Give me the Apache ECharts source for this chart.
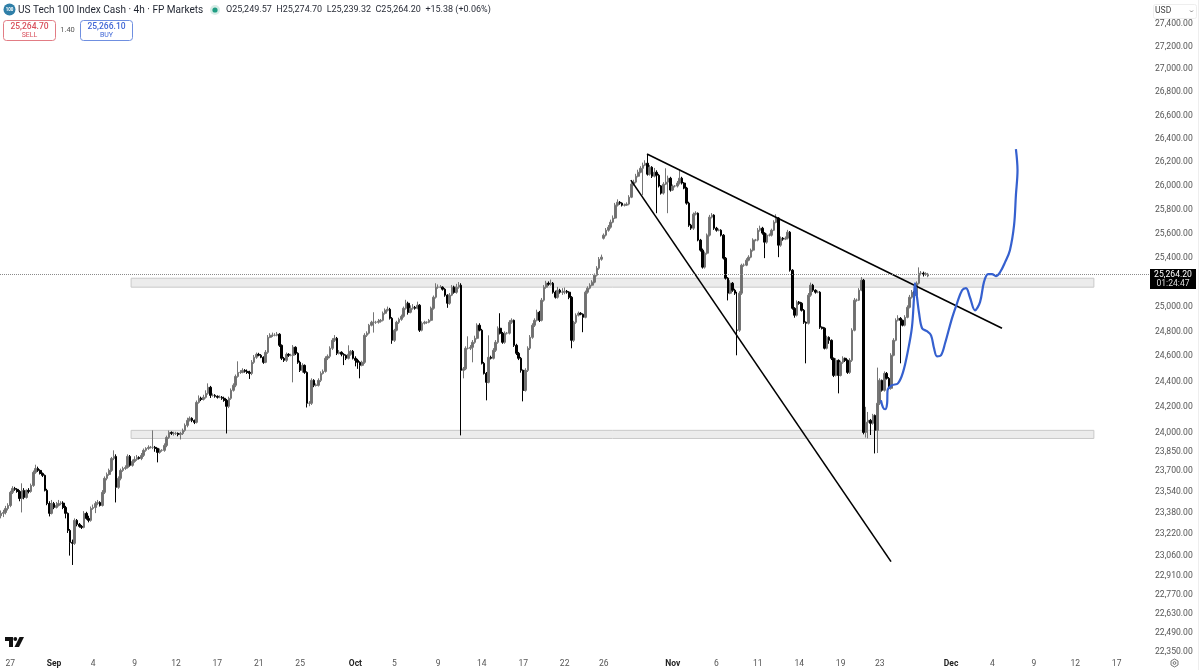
<!DOCTYPE html>
<html><head><meta charset="utf-8">
<script src="https://cdn.jsdelivr.net/npm/echarts@6/dist/echarts.min.js"></script>
<style>html,body{margin:0;padding:0;background:#fff}#c{width:1200px;height:670px}</style>
</head><body><div id="c"></div>
<script>
const barSlots = 500;
const opens = [
23360,23378,23385,23415,23438,23538,23568,23561,23545,23491,
23553,23499,23553,23545,23591,23691,23721,23706,23683,23668,
23553,23453,23378,23453,23423,23438,23453,23456,23423,23378,
23249,23159,23152,23325,23295,23280,23272,23378,23340,23325,
23415,23423,23453,23461,23438,23538,23645,23675,23706,23798,
23814,23576,23645,23706,23721,23729,23814,23745,23775,23791,
23806,23798,23822,23861,23876,23884,23884,23884,23876,23845,
23861,23861,23899,23961,24000,23992,23992,23992,23985,23992,
24016,24055,24094,24110,24094,24079,24235,24267,24259,24275,
24306,24354,24290,24290,24283,24275,24275,24267,24251,24204,
24267,24330,24370,24440,24472,24472,24488,24480,24472,24464,
24552,24592,24616,24608,24592,24552,24632,24752,24768,24768,
24768,24777,24688,24584,24568,24616,24608,24608,24672,24624,
24552,24488,24528,24472,24228,24228,24409,24370,24370,24409,
24464,24480,24584,24600,24664,24728,24744,24624,24632,24616,
24608,24584,24616,24640,24584,24568,24552,24528,24552,24768,
24785,24849,24873,24873,24873,24881,24889,24946,24970,24978,
24905,24728,24809,24873,24897,24921,24986,25027,24954,24986,
24994,24986,25011,24809,24865,24873,24873,24889,24986,25076,
25158,25158,25158,25141,25093,25027,25093,25158,25117,25158,
25174,24488,24500,24664,24664,24672,24712,24744,24849,24809,
24544,24464,24393,24592,24584,24648,24712,24825,24785,24712,
24785,24785,24873,24889,24688,24624,24584,24488,24330,24488,
24664,24752,24849,24889,24954,24889,25052,25158,25190,25182,
25190,25117,25076,25133,25117,25117,25125,25117,25076,24728,
24873,24930,24946,24938,24913,25117,25150,25174,25199,25256,
25313,25387,25560,25586,25627,25652,25694,25728,25836,25861,
25853,25836,25836,25845,25903,26013,26030,26080,26113,26147,
26173,26190,26097,26156,26080,26113,26088,25997,25938,26013,
26030,26063,25963,25997,25997,26022,26063,26022,25980,25853,
25669,25644,25761,25769,25545,25462,25322,25437,25586,25736,
25753,25644,25627,25627,25586,25396,25231,25109,25190,25133,
24809,24809,25109,25338,25338,25379,25404,25462,25545,25545,
25627,25644,25603,25528,25586,25586,25627,25694,25728,25503,
25561,25553,25561,25611,25297,24986,24930,25036,25027,24970,
24873,24865,25093,25174,25133,25117,25117,24833,24825,24664,
24752,24728,24584,24448,24568,24448,24552,24584,24568,24472,
24568,24809,25052,25052,25133,25215,24000,24080,24094,24071,
24133,24016,24228,24409,24330,24464,24425,24346,24608,24728,
24889,24905,24889,24849,24913,24994,25076,25117,25093,25190,
25272,25272,25264,25249.57];
const closes = [
23378,23385,23415,23438,23538,23568,23561,23545,23491,23553,
23499,23553,23545,23591,23691,23721,23706,23683,23668,23553,
23453,23378,23453,23423,23438,23453,23456,23423,23378,23249,
23159,23152,23325,23295,23280,23272,23378,23340,23325,23415,
23423,23453,23461,23438,23538,23645,23675,23706,23798,23814,
23576,23645,23706,23721,23729,23814,23745,23775,23791,23806,
23798,23822,23861,23876,23884,23884,23884,23876,23845,23861,
23861,23899,23961,24000,23992,23992,23992,23985,23992,24016,
24055,24094,24110,24094,24079,24235,24267,24259,24275,24306,
24354,24290,24290,24283,24275,24275,24267,24251,24204,24267,
24330,24370,24440,24472,24472,24488,24480,24472,24464,24552,
24592,24616,24608,24592,24552,24632,24752,24768,24768,24768,
24777,24688,24584,24568,24616,24608,24608,24672,24624,24552,
24488,24528,24472,24228,24228,24409,24370,24370,24409,24464,
24480,24584,24600,24664,24728,24744,24624,24632,24616,24608,
24584,24616,24640,24584,24568,24552,24528,24552,24768,24785,
24849,24873,24873,24873,24881,24889,24946,24970,24978,24905,
24728,24809,24873,24897,24921,24986,25027,24954,24986,24994,
24986,25011,24809,24865,24873,24873,24889,24986,25076,25158,
25158,25158,25141,25093,25027,25093,25158,25117,25158,25174,
24488,24500,24664,24664,24672,24712,24744,24849,24809,24544,
24464,24393,24592,24584,24648,24712,24825,24785,24712,24785,
24785,24873,24889,24688,24624,24584,24488,24330,24488,24664,
24752,24849,24889,24954,24889,25052,25158,25190,25182,25190,
25117,25076,25133,25117,25117,25125,25117,25076,24728,24873,
24930,24946,24938,24913,25117,25150,25174,25199,25256,25313,
25387,25404,25586,25627,25652,25694,25728,25836,25861,25853,
25836,25836,25845,25903,26013,26030,26080,26113,26147,26173,
26190,26097,26156,26080,26113,26088,25997,25938,26013,26030,
26063,25963,25997,25997,26022,26063,26022,25980,25853,25669,
25644,25761,25769,25545,25462,25322,25437,25586,25736,25753,
25644,25627,25627,25586,25396,25231,25109,25190,25133,25109,
24809,25109,25338,25338,25379,25404,25462,25545,25545,25627,
25644,25603,25528,25586,25586,25627,25694,25728,25503,25561,
25553,25561,25611,25297,24986,24930,25036,25027,24970,24873,
24865,25093,25174,25133,25117,25117,24833,24825,24664,24752,
24728,24584,24448,24568,24448,24552,24584,24568,24472,24568,
24809,25052,25052,25133,25215,24000,24080,24094,24071,24133,
24016,24228,24409,24330,24464,24425,24346,24608,24728,24889,
24905,24889,24849,24913,24994,25076,25117,25093,25190,25272,
25272,25264,25268,25264.2];
const highs = [
23400,23405,23435,23455,23550,23585,23580,23570,23555,23607,
23570,23560,23570,23605,23705,23750,23735,23715,23690,23675,
23565,23470,23480,23465,23465,23480,23470,23470,23435,23385,
23260,23180,23340,23335,23305,23290,23395,23390,23360,23430,
23445,23470,23480,23470,23555,23660,23690,23720,23810,23861,
23830,23660,23720,23735,23745,23830,23825,23790,23815,23825,
23815,23840,23875,23885,23900,23895,24016,23895,23880,23875,
23870,23915,23975,24015,24008,24005,24005,24000,24005,24030,
24070,24115,24125,24118,24100,24250,24290,24280,24295,24330,
24385,24365,24305,24300,24290,24290,24285,24280,24262,24280,
24345,24385,24455,24560,24490,24505,24498,24495,24485,24570,
24610,24630,24628,24618,24600,24650,24770,24785,24790,24785,
24795,24785,24695,24595,24630,24625,24620,24690,24680,24632,
24565,24545,24535,24480,24245,24425,24418,24385,24425,24480,
24495,24600,24615,24680,24745,24770,24755,24650,24640,24625,
24615,24688,24650,24650,24600,24580,24560,24565,24785,24800,
24860,24885,24954,24885,24900,24900,24960,24985,25000,24990,
24915,24820,24885,24910,24935,25000,25055,25040,25010,25020,
25005,25040,25020,24880,24885,24880,24900,25000,25090,25190,
25180,25175,25165,25150,25100,25110,25175,25170,25185,25200,
25190,24515,24680,24760,24690,24730,24765,24865,24865,24820,
24555,24475,24768,24605,24665,24730,24840,24946,24795,24800,
24795,24890,24905,24895,24700,24635,24595,24495,24505,24680,
24770,24865,24905,24975,24965,25070,25175,25210,25205,25220,
25200,25130,25160,25145,25150,25155,25135,25125,25085,24885,
24945,24960,24955,24945,25130,25165,25190,25215,25270,25330,
25405,25425,25600,25645,25670,25715,25750,25855,25885,25870,
25860,25850,25860,25920,26030,26050,26100,26135,26165,26195,
26215,26260,26175,26165,26150,26130,26100,26005,26030,26147,
26085,26075,26010,26005,26040,26130,26075,26030,25990,25865,
25680,25775,25785,25775,25555,25475,25450,25600,25755,25770,
25760,25655,25640,25635,25595,25405,25240,25215,25200,25145,
25120,25125,25350,25352,25395,25420,25475,25560,25555,25645,
25665,25655,25610,25600,25600,25640,25710,25760,25735,25575,
25570,25575,25630,25620,25305,24995,25050,25045,25035,24980,
24880,25110,25195,25185,25140,25130,25125,24840,24832,24765,
24760,24735,24590,24585,24575,24565,24600,24590,24575,24585,
24825,25070,25065,25150,25240,25225,24200,24160,24105,24145,
24140,24510,24425,24415,24480,24475,24435,24625,24745,24905,
24930,24915,24895,24930,25010,25095,25135,25125,25205,25320,
25290,25285,25280,25274.7];
const lows = [
23340,23350,23370,23400,23425,23525,23550,23535,23470,23385,
23485,23490,23530,23535,23580,23680,23695,23675,23655,23545,
23440,23355,23370,23410,23415,23430,23440,23410,23340,23230,
23060,22990,23140,23280,23270,23260,23265,23330,23310,23315,
23405,23380,23440,23430,23430,23525,23630,23665,23695,23785,
23461,23565,23630,23695,23710,23720,23735,23735,23765,23780,
23790,23785,23810,23850,23865,23875,23870,23850,23768,23835,
23850,23850,23885,23950,23980,23975,23980,23970,23945,23980,
24005,24040,24085,24080,24065,24070,24225,24245,24250,24265,
24295,24270,24280,24272,24265,24268,24255,24240,23992,24190,
24255,24320,24355,24430,24460,24465,24470,24460,24420,24450,
24540,24580,24600,24585,24540,24545,24620,24745,24755,24760,
24760,24675,24570,24555,24555,24595,24600,24393,24610,24540,
24475,24470,24460,24195,24205,24215,24355,24360,24360,24395,
24455,24470,24570,24585,24650,24715,24610,24615,24600,24530,
24570,24575,24605,24575,24520,24500,24425,24520,24540,24755,
24775,24840,24790,24860,24862,24870,24880,24935,24960,24895,
24700,24715,24800,24860,24885,24910,24975,24935,24945,24975,
24975,24978,24795,24800,24855,24860,24865,24880,24975,25065,
25145,25150,25130,25080,24990,25015,25085,25105,25105,25145,
23977,24425,24490,24655,24650,24552,24700,24735,24800,24535,
24455,24251,24385,24575,24575,24635,24700,24775,24700,24700,
24775,24775,24860,24675,24610,24570,24470,24243,24320,24475,
24650,24740,24835,24880,24875,24880,25040,25145,25170,25170,
25105,25065,25065,25105,25095,25100,25105,25060,24664,24715,
24860,24920,24930,24793,24905,25105,25140,25165,25190,25245,
25300,25375,25550,25575,25615,25640,25685,25720,25825,25840,
25825,25825,25830,25835,25895,26000,26020,26070,26105,25920,
26165,26085,26085,26065,26070,25769,25985,25925,25925,26005,
25769,25950,25955,25985,25985,26010,26010,25970,25840,25655,
25630,25630,25750,25535,25450,25310,25310,25425,25575,25725,
25630,25615,25618,25575,25385,25220,25050,25100,25120,25095,
24608,24795,25095,25325,25330,25370,25395,25450,25535,25535,
25615,25590,25396,25515,25575,25575,25620,25685,25404,25490,
25540,25545,25550,25285,24975,24910,24920,25015,24960,24860,
24544,24855,25080,25120,25105,25108,24820,24815,24655,24655,
24700,24570,24435,24440,24306,24440,24540,24555,24460,24460,
24555,24800,25040,25045,25125,23985,23960,23954,23980,24060,
23837,23840,24215,24320,24320,24415,24335,24335,24600,24720,
24880,24544,24840,24840,24905,24985,25065,25085,25085,25180,
25255,25245,25250,25239.32];

const yTicks = [27400,27200,27000,26800,26600,26400,26200,26000,25800,25600,25400,25000,24800,24600,24400,24200,24000,23850,23700,23540,23380,23220,23060,22910,22770,22630,22490,22350];
const xTickBars = [4,23,40,58,76,94,112,130,154,171,190,209,227,245,262,292,311,329,347,365,382,413,431,449,467,485];
const xTickLabels = ['27','Sep','4','9','12','17','21','25','Oct','5','9','14','17','22','26','Nov','6','11','14','19','23','Dec','4','9','12','17'];
const lastPrice = 25264.2;
const zoneUpper = [57, 475.6, 25231, 25158];
const zoneLower = [57, 475.6, 24016, 23953];
const trendUpper = [[281.3,26268],[435.65,24825]];
const trendLower = [[274.3,26047],[387.4,23015]];
const projection = [[383,24251],[383.9,24196],[384.8,24181],[385.7,24228],[385.9,24330],[387.8,24370],[390.4,24385],[392.6,24472],[394.8,24648],[396.5,24833],[397.4,25076],[397.8,25190],[398.7,25076],[399.6,24946],[400.9,24825],[403,24801],[404.8,24768],[406.1,24664],[407.4,24600],[409.1,24608],[410.9,24704],[413.9,24905],[416.1,25027],[418.3,25133],[420,25150],[421.7,25076],[423.9,24970],[426.1,25036],[427.8,25199],[429.6,25264],[431.3,25264],[433,25248],[434.8,25280],[437,25363],[439.1,25462],[440.9,25669],[441.7,25921],[442.4,26130],[441.7,26311]];

const months = ['Sep','Oct','Nov','Dec'];
const categories = Array.from({length:barSlots},()=> '');
xTickBars.forEach((b,i)=>{categories[b]=xTickLabels[i];});
const candles = closes.map((c,i)=>[opens[i],c,lows[i],highs[i]]);
const F = 'Roboto, "Open Sans", sans-serif';
const T = (x,y,text,fill,size,extra)=>({type:'text',x,y,silent:true,style:Object.assign({text,fill,font:(extra&&extra.weight||'normal')+' '+size+'px '+F,textVerticalAlign:'middle',textAlign:(extra&&extra.align)||'left'})});

const chart = echarts.init(document.getElementById('c'),null,{renderer:'canvas'});
chart.setOption({
  animation:false,
  backgroundColor:'#fff',
  grid:{left:0,right:50,top:24,bottom:18,containLabel:false},
  xAxis:[
    {type:'category',data:categories,boundaryGap:true,axisLine:{show:false},axisTick:{show:false},splitLine:{show:false},
     axisLabel:{interval:(i)=>categories[i]!=='',hideOverlap:false,margin:7,fontFamily:F,fontSize:8.5,color:'#555',
       formatter:(v)=>months.includes(v)?'{m|'+v+'}':v,rich:{m:{fontFamily:F,fontSize:8.5,fontWeight:'bold',color:'#222'}}}},
    {type:'value',min:0,max:barSlots,show:false}
  ],
  yAxis:{type:'log',logBase:10,min:22350,max:27400,position:'right',axisLine:{show:false},axisTick:{show:false},splitLine:{show:false},
    axisLabel:{customValues:yTicks,margin:5,padding:[3,0,0,0],fontFamily:F,fontSize:8.6,color:'#555',showMinLabel:true,showMaxLabel:true,
      formatter:(v)=>Number(v).toLocaleString('en-US',{minimumFractionDigits:2,maximumFractionDigits:2})}},
  series:[
    {type:'line',name:'zones',xAxisIndex:1,yAxisIndex:0,data:[],silent:true,z:1,
     markArea:{silent:true,z:1,itemStyle:{color:'#ececec',borderColor:'#c9c9c9',borderWidth:1},
       data:[[{coord:[zoneUpper[0],zoneUpper[2]]},{coord:[zoneUpper[1],zoneUpper[3]]}],[{coord:[zoneLower[0],zoneLower[2]]},{coord:[zoneLower[1],zoneLower[3]]}]]},
     markLine:{silent:true,symbol:'none',label:{show:false},lineStyle:{color:'#8a8a8a',type:'dotted',width:1},data:[{yAxis:lastPrice}]}},
    {type:'candlestick',data:candles,xAxisIndex:0,yAxisIndex:0,barWidth:2.1,z:3,
     itemStyle:{color:'#6f6f6f',color0:'#000',borderColor:'#757575',borderColor0:'#000',borderWidth:1}},
    {type:'line',xAxisIndex:1,data:trendUpper,symbol:'none',z:4,lineStyle:{color:'#000',width:1.6}},
    {type:'line',xAxisIndex:1,data:trendLower,symbol:'none',z:4,lineStyle:{color:'#000',width:1.6}},
    {type:'line',xAxisIndex:1,data:projection,symbol:'none',smooth:0.35,z:5,lineStyle:{color:'#3560cf',width:2.2}}
  ],
  graphic:[
    {type:'circle',shape:{cx:9.5,cy:9.5,r:6},style:{fill:'#2f7fa8'},silent:true},
    T(9.5,9.7,'100','#fff',4.5,{align:'center',weight:'bold'}),
    T(18,10,'US Tech 100 Index Cash · 4h · FP Markets','#1f2430',10.05),
    {type:'circle',shape:{cx:215,cy:10,r:5},style:{fill:'#d6ece6'},silent:true},
    {type:'circle',shape:{cx:215,cy:10,r:2.6},style:{fill:'#1f9d83'},silent:true},
    T(226,10,'O25,249.57  H25,274.70  L25,239.32  C25,264.20  +15.38 (+0.06%)','#2a2e39',9),
    {type:'rect',shape:{x:3.5,y:20.5,width:52,height:20,r:3},style:{fill:'#fff',stroke:'#e27c84',lineWidth:1},silent:true},
    T(29.5,26.5,'25,264.70','#d9505c',8.5,{align:'center',weight:'500'}),
    T(29.5,35,'SELL','#d9505c',7,{align:'center'}),
    T(67.5,30,'1.40','#555',7.5,{align:'center'}),
    {type:'rect',shape:{x:80.5,y:20.5,width:52,height:20,r:3},style:{fill:'#fff',stroke:'#6f8fe0',lineWidth:1},silent:true},
    T(106.5,26.5,'25,266.10','#3f66d6',8.5,{align:'center',weight:'500'}),
    T(106.5,35,'BUY','#3f66d6',7,{align:'center'}),
    {type:'rect',shape:{x:1153.5,y:4.5,width:43,height:14,r:2},style:{fill:'#fff',stroke:'#eeeeee',lineWidth:1},silent:true},
    T(1155,11,'USD','#444',8.6),
    {type:'polyline',shape:{points:[[1190,10.5],[1191.5,12],[1193,10.5]]},style:{stroke:'#666',fill:null,lineWidth:0.8},silent:true},
    {type:'rect',shape:{x:1150,y:269,width:46,height:20},style:{fill:'#000'},silent:true},
    T(1173,274.5,'25,264.20','#fff',8.6,{align:'center'}),
    T(1173,283.5,'01:24:47','#ddd',8.6,{align:'center'}),
    {type:'polygon',shape:{points:[[5,637],[13,637],[13,647],[9,647],[9,641],[5,641]]},style:{fill:'#111'},silent:true},
    {type:'circle',shape:{cx:15.3,cy:639,r:1.9},style:{fill:'#111'},silent:true},
    {type:'polygon',shape:{points:[[19.5,637],[24,637],[19,647],[14.5,647]]},style:{fill:'#111'},silent:true},
    {type:'polygon',shape:{points:[[1174.5,659],[1178,661],[1178,665],[1174.5,667],[1171,665],[1171,661]]},style:{fill:'none',stroke:'#555',lineWidth:0.8},silent:true},
    {type:'circle',shape:{cx:1174.5,cy:663,r:1.4},style:{fill:'none',stroke:'#555',lineWidth:0.8},silent:true},
    {type:'line',shape:{x1:1198.5,y1:0,x2:1198.5,y2:670},style:{stroke:'#eeeeee',lineWidth:1},silent:true}
  ]
});
</script></body></html>
